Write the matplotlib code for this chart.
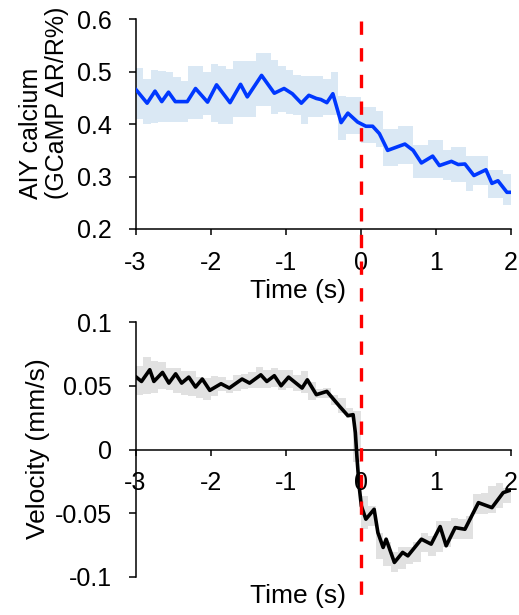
import numpy as np
import matplotlib
matplotlib.use('Agg')
import matplotlib.pyplot as plt
from matplotlib.lines import Line2D
from matplotlib.transforms import blended_transform_factory

plt.rcParams['font.family'] = ['Liberation Sans', 'DejaVu Sans']
plt.rcParams['axes.unicode_minus'] = False

# ---------------- data ----------------
# AIY calcium mean trace (time s, value)
ca_t = [-3.0, -2.845, -2.74, -2.65, -2.56, -2.47, -2.31, -2.20, -2.04, -1.92, -1.74, -1.60,
        -1.51, -1.32, -1.15, -1.02, -0.91, -0.79, -0.69, -0.59, -0.53, -0.45, -0.37, -0.26,
        -0.17, -0.04, 0.07, 0.16, 0.25, 0.36, 0.59, 0.70, 0.81, 0.96, 1.05, 1.21, 1.30,
        1.39, 1.51, 1.67, 1.75, 1.83, 1.95, 2.0]
ca_mean = [0.467, 0.440, 0.463, 0.443, 0.461, 0.443, 0.443, 0.468, 0.442, 0.475, 0.441, 0.476,
           0.452, 0.493, 0.459, 0.468, 0.458, 0.440, 0.455, 0.449, 0.447, 0.441, 0.458, 0.403,
           0.421, 0.404, 0.396, 0.396, 0.382, 0.350, 0.362, 0.350, 0.326, 0.339, 0.321, 0.329,
           0.323, 0.324, 0.302, 0.313, 0.287, 0.292, 0.270, 0.270]

# SEM band, one value per 0.1 s bin from -3 to 2 s
ca_upper = [0.508, 0.487, 0.503, 0.501, 0.500, 0.490, 0.482, 0.511, 0.511, 0.500,
            0.514, 0.510, 0.506, 0.521, 0.521, 0.521, 0.535, 0.535, 0.522, 0.511,
            0.504, 0.493, 0.491, 0.491, 0.491, 0.487, 0.500, 0.454, 0.452, 0.452,
            0.433, 0.433, 0.426, 0.391, 0.391, 0.396, 0.396, 0.361, 0.361, 0.369,
            0.369, 0.351, 0.356, 0.356, 0.340, 0.340, 0.340, 0.313, 0.313, 0.305]
ca_lower = [0.410, 0.400, 0.402, 0.404, 0.405, 0.405, 0.405, 0.410, 0.410, 0.417,
            0.404, 0.400, 0.400, 0.413, 0.413, 0.413, 0.434, 0.434, 0.420, 0.423,
            0.420, 0.417, 0.400, 0.413, 0.413, 0.417, 0.417, 0.370, 0.382, 0.382,
            0.364, 0.364, 0.356, 0.321, 0.321, 0.324, 0.324, 0.298, 0.298, 0.298,
            0.298, 0.293, 0.289, 0.289, 0.272, 0.283, 0.283, 0.260, 0.260, 0.246]

# Velocity mean trace
vel_t = [-3.0, -2.92, -2.81, -2.755, -2.64, -2.555, -2.465, -2.385, -2.29, -2.20, -2.11, -2.01,
         -1.86, -1.75, -1.58, -1.48, -1.33, -1.25, -1.15, -1.06, -0.96, -0.78, -0.71, -0.59,
         -0.45, -0.28, -0.17, -0.10, -0.07, -0.05, -0.02, 0.01, 0.07, 0.18, 0.23, 0.30, 0.34,
         0.45, 0.56, 0.63, 0.81, 0.94, 1.06, 1.14, 1.26, 1.39, 1.57, 1.75, 1.90, 2.0]
vel_mean = [0.0574, 0.0535, 0.0627, 0.0535, 0.0606, 0.0522, 0.0595, 0.0522, 0.0569, 0.0491,
            0.0554, 0.0465, 0.0517, 0.0483, 0.0554, 0.0522, 0.0587, 0.0535, 0.0580, 0.0501,
            0.0569, 0.0483, 0.0548, 0.0431, 0.0457, 0.0339, 0.0266, 0.0274, 0.0131, -0.0052,
            -0.0287, -0.0444, -0.0548, -0.0470, -0.0653, -0.0770, -0.0705, -0.0888, -0.0809,
            -0.0836, -0.0705, -0.0744, -0.0606, -0.0757, -0.0614, -0.0627, -0.0418, -0.0457,
            -0.0339, -0.0319]
vel_upper = [0.0653, 0.0731, 0.0692, 0.0684, 0.0640, 0.0640, 0.0614, 0.0614, 0.0569, 0.0561,
             0.0574, 0.0569, 0.0548, 0.0587, 0.0595, 0.0606, 0.0648, 0.0627, 0.0640, 0.0627,
             0.0627, 0.0587, 0.0614, 0.0527, 0.0475, 0.0483, 0.0431, 0.0405, 0.0326, 0.0300,
             -0.0366, -0.0444, -0.0653, -0.0731, -0.0809, -0.0770, -0.0770, -0.0731, -0.0653, -0.0679,
             -0.0561, -0.0561, -0.0535, -0.0548, -0.0522, -0.0352, -0.0339, -0.0287, -0.0261, -0.0300]
vel_lower = [0.0431, 0.0439, 0.0444, 0.0475, 0.0470, 0.0444, 0.0431, 0.0418, 0.0405, 0.0392,
             0.0418, 0.0457, 0.0444, 0.0457, 0.0475, 0.0483, 0.0483, 0.0483, 0.0491, 0.0470,
             0.0483, 0.0457, 0.0444, 0.0392, 0.0405, 0.0405, 0.0352, 0.0287, 0.0248, -0.0100,
             -0.0627, -0.0601, -0.0862, -0.0914, -0.0966, -0.0940, -0.0901, -0.0888, -0.0809, -0.0836,
             -0.0809, -0.0770, -0.0705, -0.0705, -0.0705, -0.0509, -0.0509, -0.0496, -0.0457, -0.0418]

x_ticks = [-3, -2, -1, 0, 1, 2]
x_ticklabels = ['-3', '-2', '-1', '0', '1', '2']
ca_ticks = [0.2, 0.3, 0.4, 0.5, 0.6]
ca_ticklabels = ['0.2', '0.3', '0.4', '0.5', '0.6']
vel_ticks = [-0.1, -0.05, 0, 0.05, 0.1]
vel_ticklabels = ['-0.1', '-0.05', '0', '0.05', '0.1']

# ---------------- figure ----------------
W, H = 519, 615
fig = plt.figure(figsize=(W / 100, H / 100), dpi=100)

def fx(px):
    return px / W

def fy(py):
    return 1 - py / H

ax1 = fig.add_axes([fx(135.5), fy(229), fx(510.7) - fx(135.5), fy(19.3) - fy(229)])
ax2 = fig.add_axes([fx(135.5), fy(576.7), fx(510.7) - fx(135.5), fy(322.3) - fy(576.7)])

bin_edges = np.linspace(-3, 2, len(ca_upper) + 1)

FS = 18
LFS = 19
for ax in (ax1, ax2):
    ax.set_xlim(-3, 2)
    for s in ('top', 'right'):
        ax.spines[s].set_visible(False)
    for s in ('left', 'bottom'):
        ax.spines[s].set_linewidth(1.1)
        ax.spines[s].set_color('black')
    ax.set_xticks(x_ticks)
    ax.set_xticklabels(x_ticklabels)
    ax.tick_params(axis='both', direction='out', width=1.1, labelsize=FS, colors='black')
    ax.tick_params(axis='y', length=5, pad=12)
    ax.tick_params(axis='x', length=4.5, pad=11)

# top panel
ax1.fill_between(bin_edges, list(ca_lower) + [ca_lower[-1]], list(ca_upper) + [ca_upper[-1]],
                 step='post', color='#dae8f4', linewidth=0, zorder=1)
ax1.plot(ca_t, ca_mean, color='#0038ff', lw=2.6, solid_joinstyle='round',
         solid_capstyle='round', zorder=3)
ax1.set_ylim(0.2, 0.6)
ax1.set_yticks(ca_ticks)
ax1.set_yticklabels(ca_ticklabels)

# bottom panel
ax2.fill_between(bin_edges, list(vel_lower) + [vel_lower[-1]], list(vel_upper) + [vel_upper[-1]],
                 step='post', color='#e1e1e1', linewidth=0, zorder=1)
ax2.plot(vel_t, vel_mean, color='black', lw=2.6, solid_joinstyle='round',
         solid_capstyle='round', zorder=3)
ax2.set_ylim(-0.1, 0.1)
ax2.set_yticks(vel_ticks)
ax2.set_yticklabels(vel_ticklabels)
ax2.spines['bottom'].set_position(('data', 0))

# labels
fig.text(fx(44), fy(199), 'AIY calcium\n(GCaMP \u0394R/R%)', rotation=90, ha='center', va='bottom',
         multialignment='left', fontsize=FS, linespacing=1.1)
fig.text(fx(38), fy(449), 'Velocity (mm/s)', rotation=90, ha='center', va='center', fontsize=LFS)
fig.text(fx(298.5), fy(291), 'Time (s)', ha='center', va='center', fontsize=LFS)
fig.text(fx(298.5), fy(596), 'Time (s)', ha='center', va='center', fontsize=LFS)

# red dashed onset line spanning both panels
tr = blended_transform_factory(ax1.transData, fig.transFigure)
fig.add_artist(Line2D([0, 0], [fy(20.5), fy(604)], transform=tr, color='#ff0000', lw=2.4,
                      dashes=(4, 4), zorder=10))

fig.savefig('out.png', dpi=100)
